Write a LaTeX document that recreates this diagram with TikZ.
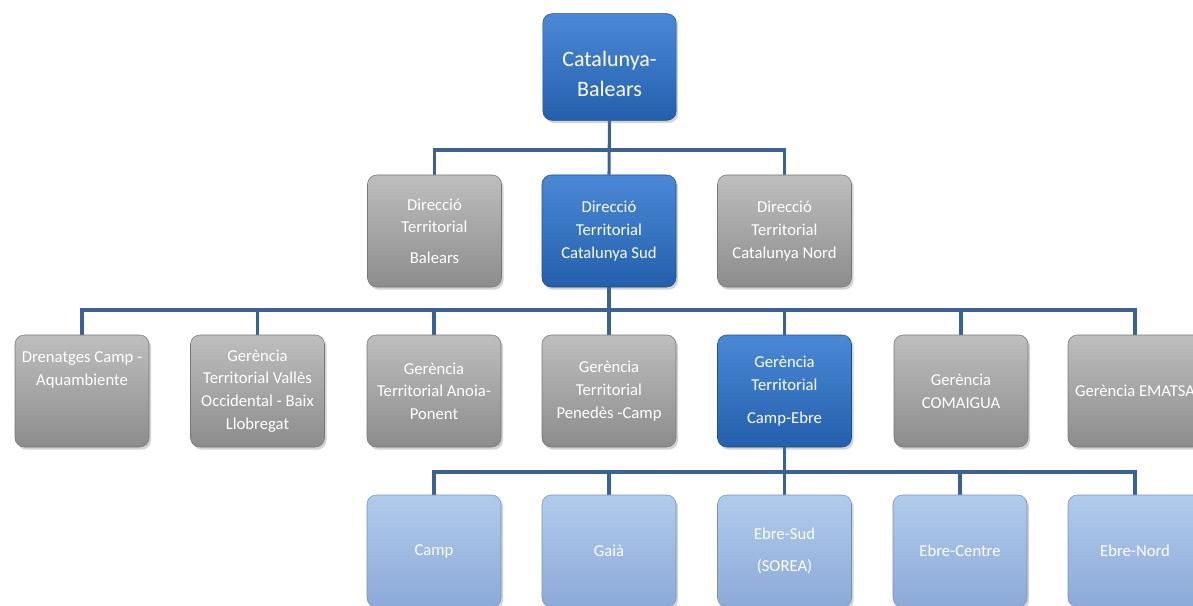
\documentclass[tikz,border=0pt]{standalone}
\usepackage{fontspec}
\setmainfont{Carlito}
\usepackage{tikz}
\usetikzlibrary{shadows,backgrounds}

\definecolor{dkblueT}{RGB}{74,137,214}
\definecolor{dkblueB}{RGB}{36,95,172}
\definecolor{greyT}{RGB}{190,190,190}
\definecolor{greyB}{RGB}{140,140,140}
\definecolor{ltblueT}{RGB}{178,203,236}
\definecolor{ltblueB}{RGB}{140,170,216}
\definecolor{linkcol}{RGB}{58,98,150}

\begin{document}
\begin{tikzpicture}[x=0.75pt,y=0.75pt,yscale=-1,xscale=1,
  box/.style={rounded corners=7pt,minimum width=100.5pt,minimum height=84pt,
    align=center,text=white,inner sep=2pt,font=\fontsize{12.5}{17}\selectfont,
    drop shadow={shadow xshift=1.5pt,shadow yshift=-2pt,opacity=0.35}},
  head/.style={box,top color=dkblueT,bottom color=dkblueB,draw=dkblueB!80!black},
  side/.style={box,top color=greyT,bottom color=greyB,draw=greyB!85!black},
  leaf/.style={box,top color=ltblueT,bottom color=ltblueB,draw=ltblueB!85!black},
  link/.style={draw=linkcol,line width=2.3pt}]
\clip (0,0) rectangle (1193,606);

%level 0
\node [head,minimum width=100pt,minimum height=80pt,text height=45pt,font=\fontsize{16.5}{22.5}\selectfont] (cat) at (609.5,67) {Catalunya-\\Balears};

%level 1
\node [side] (dbal) at (434.5,231) {Direcció\\Territorial\\[6pt]Balears};
\node [head] (dsud) at (609,231) {Direcció\\Territorial\\Catalunya Sud};
\node [side] (dnord) at (784.5,231) {Direcció\\Territorial\\Catalunya Nord};

%level 2
\node [side] (gdre) at (82,391) {Drenatges Camp -\\Aquambiente\\ \mbox{}\\ \mbox{}};
\node [side] (gval) at (257.5,391) {Gerència\\Territorial Vallès\\Occidental - Baix\\Llobregat};
\node [side] (gano) at (434,391) {Gerència\\Territorial Anoia-\\Ponent};
\node [side] (gpen) at (609,391) {Gerència\\Territorial\\Penedès -Camp};
\node [head] (gcam) at (784.5,391) {Gerència\\Territorial\\[8pt]Camp-Ebre};
\node [side] (gcom) at (961,391) {Gerència\\COMAIGUA};
\node [side] (gema) at (1135,391) {Gerència EMATSA};

%level 3
\node [leaf] (camp) at (434,551) {Camp};
\node [leaf] (gaia) at (609,551) {Gaià};
\node [leaf] (esud) at (784.5,551) {Ebre-Sud\\[7pt](SOREA)};
\node [leaf] (ecen) at (960,551) {Ebre-Centre};
\node [leaf] (enor) at (1135,551) {Ebre-Nord};

%connectors
\coordinate (bus1) at (609,150);
\coordinate (bus2) at (609,310);
\coordinate (bus3) at (784.5,472);
\begin{scope}[on background layer]
\draw [link] (cat.south) -- (dsud.north);
\foreach \n in {dbal,dnord} \draw [link] (bus1) -| (\n.north);
\draw [link] (dsud.south) -- (bus2);
\foreach \n in {gdre,gval,gano,gpen,gcam,gcom,gema} \draw [link] (bus2) -| (\n.north);
\draw [link] (gcam.south) -- (bus3);
\foreach \n in {camp,gaia,esud,ecen,enor} \draw [link] (bus3) -| (\n.north);
\end{scope}
\end{tikzpicture}
\end{document}
